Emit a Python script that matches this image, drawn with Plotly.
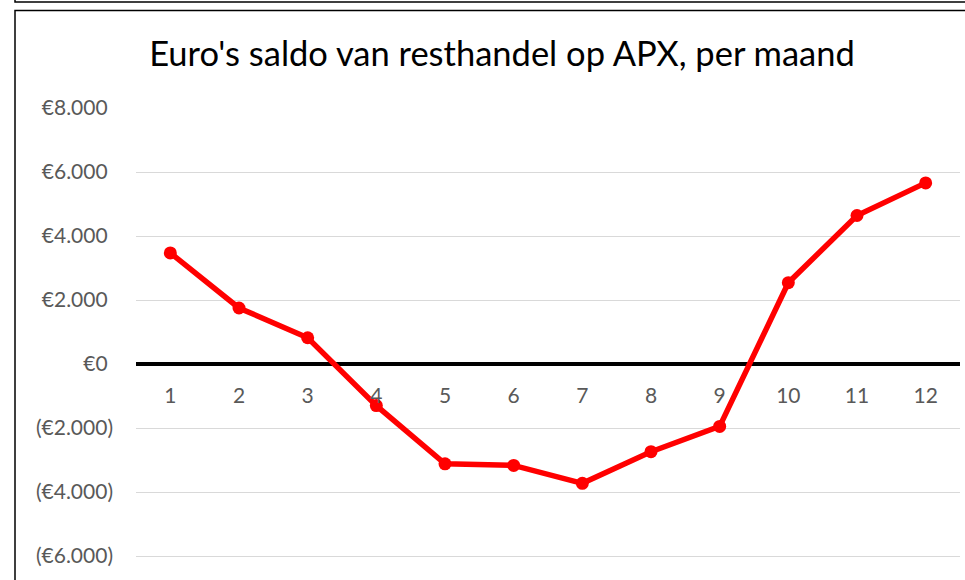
import plotly.graph_objects as go

months = [1, 2, 3, 4, 5, 6, 7, 8, 9, 10, 11, 12]
saldo = [3470, 1750, 820, -1300, -3120, -3170, -3730, -2740, -1950, 2540, 4640, 5660]

y_tickvals = [8000, 6000, 4000, 2000, 0, -2000, -4000, -6000]
y_ticktext = ["€8.000", "€6.000", "€4.000", "€2.000", "€0",
              "(€2.000)", "(€4.000)", "(€6.000)"]
title_text = "Euro's saldo van resthandel op APX, per maand"

W, H = 965, 580
L, R, T, B = 136, 5, 108, 0
y_range = [-6750, 8000]


def px_x(p):
    return (p - L) / (W - L - R)


def px_y(p):
    return (H - B - p) / (H - T - B)


# Excel keeps room for the closing bracket after positive values
y_labels = [t + "\u00a0" if v >= 0 else t for v, t in zip(y_tickvals, y_ticktext)]

fig = go.Figure()
fig.add_trace(go.Scatter(
    x=months, y=saldo, mode="lines+markers",
    line=dict(color="#ff0000", width=5.5),
    marker=dict(color="#ff0000", size=13),
    showlegend=False, cliponaxis=False,
))

zero_pos = (0 - y_range[0]) / (y_range[1] - y_range[0])

fig.update_layout(
    width=W, height=H,
    margin=dict(l=L, r=R, t=T, b=B),
    paper_bgcolor="white", plot_bgcolor="white",
    font=dict(family="Lato", color="#595959", size=21),
    title=dict(text=title_text, font=dict(size=34.5, color="black", family="Lato"),
               x=502 / W, xref="container", xanchor="center",
               y=1 - 54 / H, yref="container", yanchor="middle"),
    xaxis=dict(type="category", range=[-0.5, 11.5], showgrid=False,
               showline=False, zeroline=False, anchor="free",
               position=zero_pos, ticks="", ticklabelstandoff=17,
               tickfont=dict(size=21, color="#595959")),
    yaxis=dict(range=y_range, tickvals=y_tickvals, ticktext=y_labels,
               showgrid=True, gridcolor="#d9d9d9", gridwidth=1.3,
               zeroline=True, zerolinecolor="black", zerolinewidth=4,
               showline=False, ticks="", ticklabelstandoff=22,
               tickfont=dict(size=21, color="#595959")),
    shapes=[
        dict(type="rect", xref="paper", yref="paper",
             x0=px_x(15), x1=px_x(990), y0=px_y(-20), y1=px_y(2),
             line=dict(color="black", width=1.5)),
        dict(type="rect", xref="paper", yref="paper",
             x0=px_x(15), x1=px_x(990), y0=px_y(10.5), y1=px_y(600),
             line=dict(color="black", width=1.5)),
    ],
)

fig.write_html("out.html", config={"displayModeBar": False},
               post_script="document.body.style.margin='0';")
